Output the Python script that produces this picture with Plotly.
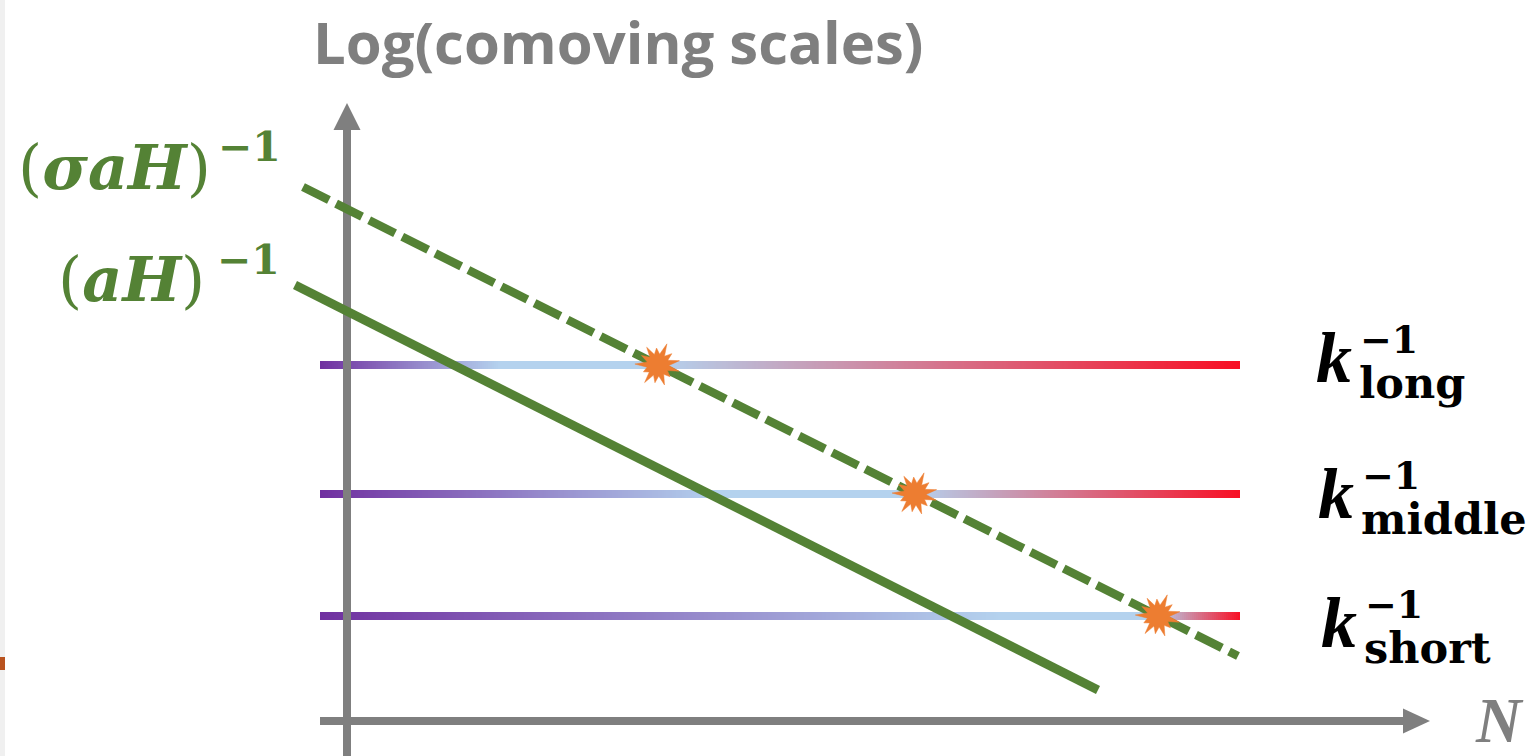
import numpy as np
import plotly.graph_objects as go

W, H = 1534, 756

# ---------------- data (diagram units: N horizontally, log-scale vertically) ----
k_names = ["long", "middle", "short"]
k_levels = [3.56, 2.27, 1.05]          # log(k^-1) of the three modes
k_N_span = [-0.27, 8.93]               # N extent of the k^-1 lines
k_blue_from = [1.53, 3.73, 6.53]       # N where the purple has faded to light blue

aH_N = [-0.52, 7.51]                   # (aH)^-1  : solid line
aH_L = [4.36, 0.31]
saH_N = [-0.44, 8.91]                  # (sigma aH)^-1 : dashed line
saH_L = [5.34, 0.65]

axis_N_tip = 10.83                     # horizontal axis arrow tip
axis_N_start = -0.27
axis_L_tip = 6.18                      # vertical axis arrow tip

# frame
N_MIN, N_MAX = -3.47, 11.87
L_MIN, L_MAX = -0.35, 7.21

GREEN = "#548235"
GRAY = "#7F7F7F"
ORANGE = "#ED7D31"
PURPLE = "#7030A0"
LBLUE = "#B4D2EE"
RED = "#F80F24"


def px(x):
    return (x - 347) / 100.0


def py(y):
    return (721 - y) / 100.0


def line_at(Ns, Ls, L):
    s = (Ls[1] - Ls[0]) / (Ns[1] - Ns[0])
    return Ns[0] + (L - Ls[0]) / s


fig = go.Figure()

# k^-1 gradient lines (heatmap strips)
N0, N1 = k_N_span
n = 460
dx = (N1 - N0) / n
t = (np.arange(n) + 0.5) / n
for lvl, nb in zip(k_levels, k_blue_from):
    cross = line_at(saH_N, saH_L, lvl)
    p1 = (nb - N0) / (N1 - N0)
    p2 = (cross - N0) / (N1 - N0)
    cs = [[0, PURPLE], [p1, LBLUE], [p2, LBLUE], [1, RED]]
    fig.add_trace(go.Heatmap(z=[t, t], x0=N0 + dx / 2, dx=dx,
                             y=[lvl - 0.02, lvl + 0.02],
                             colorscale=cs, zmin=0, zmax=1, showscale=False,
                             hoverinfo="skip", zsmooth=False))

# axes (gray)
ah = 0.27
fig.add_trace(go.Scatter(x=[0, 0], y=[L_MIN - 0.1, axis_L_tip - ah + 0.02], mode="lines",
                         line=dict(color=GRAY, width=8), hoverinfo="skip"))
fig.add_trace(go.Scatter(x=[-0.135, 0.135, 0, -0.135],
                         y=[axis_L_tip - ah, axis_L_tip - ah, axis_L_tip, axis_L_tip - ah],
                         mode="lines", fill="toself", fillcolor=GRAY,
                         line=dict(color=GRAY, width=0), hoverinfo="skip"))
fig.add_trace(go.Scatter(x=[axis_N_start, axis_N_tip - ah + 0.02], y=[0, 0], mode="lines",
                         line=dict(color=GRAY, width=8), hoverinfo="skip"))
fig.add_trace(go.Scatter(x=[axis_N_tip - ah, axis_N_tip - ah, axis_N_tip, axis_N_tip - ah],
                         y=[-0.125, 0.125, 0, -0.125],
                         mode="lines", fill="toself", fillcolor=GRAY,
                         line=dict(color=GRAY, width=0), hoverinfo="skip"))

# horizon lines
fig.add_trace(go.Scatter(x=aH_N, y=aH_L, mode="lines",
                         line=dict(color=GREEN, width=9), hoverinfo="skip"))
fig.add_trace(go.Scatter(x=saH_N, y=saH_L, mode="lines",
                         line=dict(color=GREEN, width=8.5, dash="29px,8px"), hoverinfo="skip"))

# horizon-crossing bursts
outer = [0.22, 0.18, 0.23, 0.17, 0.21, 0.19, 0.23, 0.16, 0.22, 0.18, 0.21, 0.17, 0.22]
nsp = len(outer)
for lvl in k_levels:
    cN = line_at(saH_N, saH_L, lvl)
    xs, ys = [], []
    for i in range(nsp):
        a0 = 2 * np.pi * i / nsp + 0.2
        a1 = a0 + np.pi / nsp
        xs += [cN + outer[i] * np.cos(a0), cN + 0.11 * np.cos(a1)]
        ys += [lvl + outer[i] * np.sin(a0), lvl + 0.11 * np.sin(a1)]
    xs.append(xs[0]); ys.append(ys[0])
    fig.add_trace(go.Scatter(x=xs, y=ys, mode="lines", fill="toself", fillcolor=ORANGE,
                             line=dict(color=ORANGE, width=0.5), hoverinfo="skip"))

ann = []
SERIF = "Liberation Serif"
DSERIF = "DejaVu Serif"


def add(text, x, y, size, color, family, xanchor="left", yanchor="middle"):
    ann.append(dict(text=text, x=x, y=y, xref="x", yref="y", showarrow=False,
                    xanchor=xanchor, yanchor=yanchor, borderpad=0,
                    font=dict(size=size, color=color, family=family)))


# axis titles
add("<b>Log(comoving scales)</b>", px(618), py(0.5), 58, GRAY, "Open Sans", "center", "top")
add("<b><i>N</i></b>", px(1474), py(742 - 0.3375 * 63), 63, GRAY, SERIF)

# horizon labels
add("(<b><i>σaH</i></b>)", px(212), py(189 - 0.346 * 62), 62, GREEN, DSERIF, "right")
add("<b>−1</b>", px(217), py(161 - 0.346 * 41), 41, GREEN, DSERIF)
add("(<b><i>aH</i></b>)", px(206), py(301 - 0.346 * 62), 62, GREEN, DSERIF, "right")
add("<b>−1</b>", px(216), py(274 - 0.346 * 41), 41, GREEN, DSERIF)

# k labels
k_base = [382, 518, 647]
k_x = [1315, 1317, 1320]
for name, b, x0 in zip(k_names, k_base, k_x):
    add("<b><i>k</i></b>", px(x0), py(b - 0.3375 * 72), 72, "black", SERIF)
    add("<b>−1</b>", px(x0 + 44), py(b - 29 - 0.346 * 38), 38, "black", DSERIF)
    add("<b>%s</b>" % name, px(x0 + 43), py(b + 16 - 0.346 * 43), 43, "black", DSERIF)

shapes = [
    dict(type="rect", xref="paper", yref="paper", x0=0, x1=5 / W, y0=0, y1=1,
         fillcolor="#F0F0F0", line=dict(width=0), layer="below"),
    dict(type="rect", xref="paper", yref="paper", x0=0, x1=5 / W,
         y0=1 - 670 / H, y1=1 - 657 / H, fillcolor="#B9531F", line=dict(width=0), layer="below"),
]

fig.update_layout(
    width=W, height=H, margin=dict(l=0, r=0, t=0, b=0),
    paper_bgcolor="white", plot_bgcolor="white", showlegend=False,
    xaxis=dict(range=[N_MIN, N_MAX], visible=False, fixedrange=True),
    yaxis=dict(range=[L_MIN, L_MAX], visible=False, fixedrange=True),
    annotations=ann, shapes=shapes,
)

fig.write_html("out.html", config={"displayModeBar": False},
               post_script="document.body.style.margin='0';document.body.style.overflow='hidden';")
